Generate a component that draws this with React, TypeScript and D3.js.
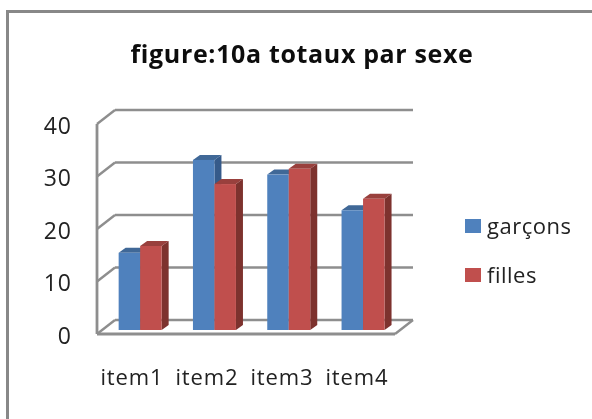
import React from "react";
import * as d3 from "d3";

const categories = ["item1", "item2", "item3", "item4"];
const seriesNames = ["garçons", "filles"];
const garcons = [14.7, 32.4, 29.6, 22.8];
const filles = [16, 27.8, 30.7, 25];
const ticks = [0, 10, 20, 30, 40];
const title = "figure:10a totaux par sexe";

const FONT = "'Open Sans', sans-serif";
const GRID = "#8e8e8e";
const dx = 18;
const dy = 14;
const barDx = 7;
const barDy = 5;

const colors = [
  { front: "#4f81bd", top: "#3f6797", side: "#345a8a" },
  { front: "#c0504d", top: "#99403d", side: "#7d302e" },
];

const y = d3.scaleLinear().domain([0, 40]).range([334, 124]);
const xBars = d3.scaleBand().domain(categories).range([95.5, 392.7]);
const xLabels = d3.scaleBand().domain(categories).range([94.5, 394.5]);
const barW = 21.5;

export default function App() {
  const series = [garcons, filles];
  const barBase = y(0) - 4;
  return (
    <svg
      width={592}
      height={419}
      style={{ position: "absolute", left: 0, top: 0, display: "block", background: "#fff" }}
    >
      <defs>
        <filter id="soft" x="-5%" y="-5%" width="110%" height="110%">
          <feGaussianBlur stdDeviation="0.45" />
        </filter>
      </defs>
      <g filter="url(#soft)">
        <path d="M7.5 419V11.5H592" fill="none" stroke="#888" strokeWidth={3} />
        {ticks.map((t) => (
          <g key={t}>
            <line x1={97} x2={97 + dx} y1={y(t)} y2={y(t) - dy} stroke={GRID} strokeWidth={2.4} />
            <line x1={97 + dx} x2={413} y1={y(t) - dy} y2={y(t) - dy} stroke={GRID} strokeWidth={2.4} />
          </g>
        ))}
        <line x1={97} x2={97} y1={y(40)} y2={y(0)} stroke={GRID} strokeWidth={2.8} />
        <line x1={97} x2={395} y1={y(0)} y2={y(0)} stroke={GRID} strokeWidth={2.8} />
        <line x1={395} x2={413} y1={y(0)} y2={y(0) - dy} stroke={GRID} strokeWidth={2.4} />

        {categories.map((c, i) => {
          const cx = (xBars(c) as number) + xBars.bandwidth() / 2 + 7.5;
          return seriesNames.map((_, s) => {
            const left = cx - barW + s * barW;
            const right = left + barW;
            const top = barBase - (y(0) - y(series[s][i]));
            const col = colors[s];
            return (
              <g key={c + s}>
                <path
                  d={`M${left} ${top}L${left + barDx} ${top - barDy}H${right + barDx}L${right} ${top}Z`}
                  fill={col.top}
                />
                <path
                  d={`M${right} ${top}L${right + barDx} ${top - barDy}V${barBase - barDy}L${right} ${barBase}Z`}
                  fill={col.side}
                />
                <rect x={left} y={top} width={barW} height={barBase - top} fill={col.front} />
              </g>
            );
          });
        })}

        {ticks.map((t) => (
          <text
            key={t}
            x={72}
            y={y(t) + 1.5}
            dy="0.36em"
            textAnchor="end"
            fontFamily={FONT}
            fontSize={23}
            letterSpacing={1}
            fill="#222"
          >
            {t}
          </text>
        ))}
        {categories.map((c) => (
          <text
            key={c}
            x={(xLabels(c) as number) + xLabels.bandwidth() / 2}
            y={385}
            textAnchor="middle"
            fontFamily={FONT}
            fontSize={22}
            letterSpacing={0.9}
            fill="#222"
          >
            {c}
          </text>
        ))}

        {seriesNames.map((n, i) => (
          <g key={n}>
            <rect x={465} y={219 + i * 49} width={16} height={14} fill={colors[i].front} />
            <text x={487} y={234 + i * 49} fontFamily={FONT} fontSize={22} letterSpacing={0.5} fill="#222">
              {n}
            </text>
          </g>
        ))}

        <text
          x={302}
          y={63}
          textAnchor="middle"
          fontFamily={FONT}
          fontSize={25}
          letterSpacing={0.65}
          fontWeight={700}
          fill="#111"
        >
          {title}
        </text>
      </g>
    </svg>
  );
}
